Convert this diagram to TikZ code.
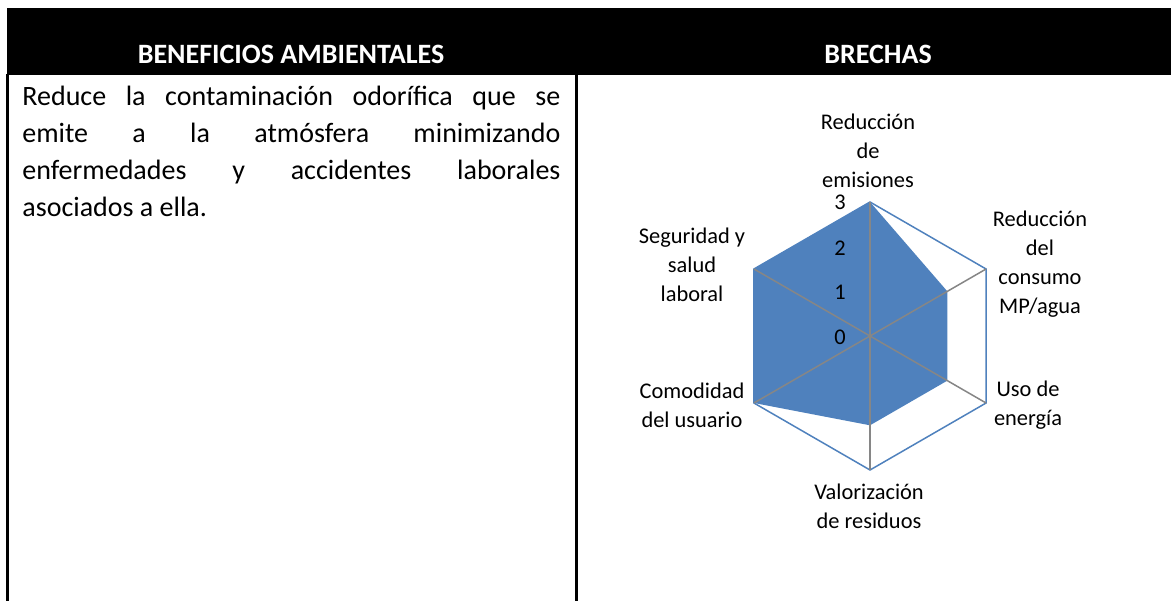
\documentclass[tikz,border=0pt]{standalone}
\usepackage{fontspec}
\setmainfont{Carlito}
\definecolor{serieblue}{HTML}{4F81BD}
\definecolor{spokegray}{HTML}{868686}

\begin{document}
\begin{tikzpicture}[x=0.5pt,y=0.5pt,
    head/.style={text=white,inner sep=0pt,font=\fontsize{14}{17}\selectfont\bfseries},
    axlabel/.style={align=center,inner sep=0pt,font=\fontsize{11.2}{14.5}\selectfont},
    tick/.style={anchor=east,inner sep=0pt,font=\fontsize{11.2}{14.5}\selectfont},
    spoke/.style={draw=spokegray,line width=0.75pt},
    rule/.style={line width=1.5pt}]
    \useasboundingbox (0,0) rectangle (1171,601);

    % table
    \fill (7,526) rectangle (1171,593);
    \node[head] (hleft) at (291,547) {BENEFICIOS AMBIENTALES};
    \node[head] (hright) at (878,547) {BRECHAS};
    \draw[rule] (7,527) -- (7,0);
    \draw[rule] (576,527) -- (576,0);
    \node[anchor=north west,inner sep=0pt,text width=269pt,align=justify,
      font=\fontsize{14}{18.5}\selectfont] (benef) at (22,515)
      {Reduce la contaminación odorífica que se\linebreak emite a la atmósfera minimizando\linebreak enfermedades y accidentes laborales\linebreak asociados a ella.};

    % radar chart
    \begin{scope}[shift={(870,265)}]
      \coordinate (c) at (0,0);
      \coordinate (emis) at (90:134);
      \coordinate (cons) at (30:134);
      \coordinate (ener) at (-30:134);
      \coordinate (valo) at (-90:134);
      \coordinate (como) at (210:134);
      \coordinate (segu) at (150:134);
      \fill[serieblue] (emis) -- (30:89.3) -- (-30:89.3) -- (-90:89.3) -- (como) -- (segu) -- cycle;
      \draw[serieblue,line width=0.75pt] (emis) -- (cons) -- (ener) -- (valo) -- (como) -- (segu) -- cycle;
      \foreach \v in {emis,cons,ener,valo,como,segu}
        \draw[spoke] (c) -- (\v);
    \end{scope}

    \node[tick] (t0) at (846,264) {0};
    \node[tick] (t1) at (846,309) {1};
    \node[tick] (t2) at (846,353) {2};
    \node[tick] (t3) at (846,399) {3};

    \node[axlabel] (lemis) at (868,450) {Reducción\\de\\emisiones};
    \node[axlabel] (lcons) at (1040,337) {Reducción\\del\\consumo\\MP/agua};
    \node[axlabel] (lener) at (1028,196) {Uso de\\energía};
    \node[axlabel] (lvalo) at (869,95) {Valorización\\de residuos};
    \node[axlabel] (lcomo) at (692,196) {Comodidad\\del usuario};
    \node[axlabel] (lsegu) at (692,336) {Seguridad y\\salud\\laboral};
\end{tikzpicture}
\end{document}
